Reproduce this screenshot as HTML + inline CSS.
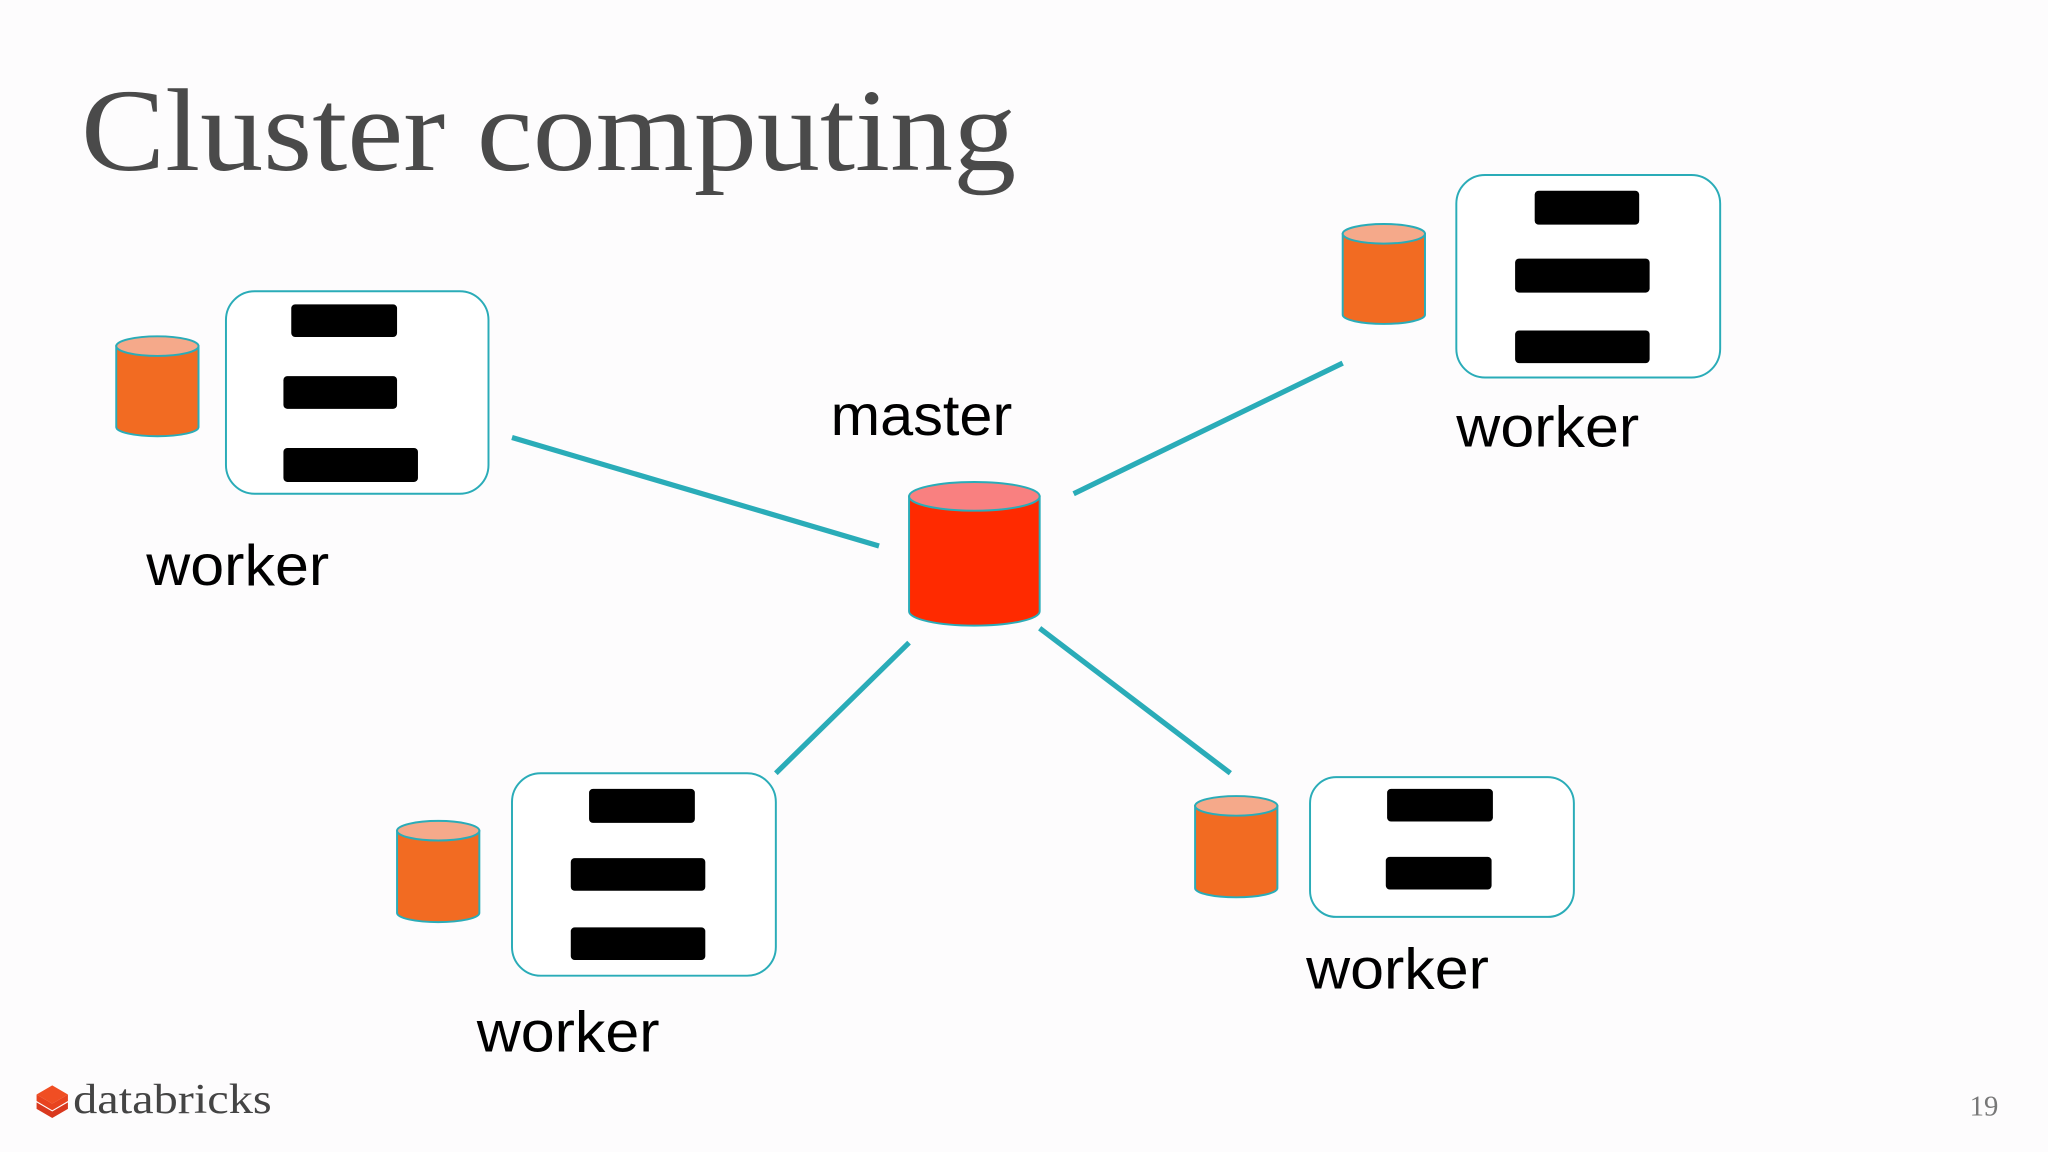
<!DOCTYPE html>
<html><head><meta charset="utf-8"><style>
html,body{margin:0;padding:0;background:#fdfcfd;}
svg{display:block;}
</style></head><body>
<svg width="2048" height="1152" viewBox="0 0 1568 882" preserveAspectRatio="none" xmlns="http://www.w3.org/2000/svg">
<rect width="1568" height="882" fill="#fdfcfd"/>
<text x="62" y="130" font-family="Liberation Serif, serif" font-size="90" fill="#4a4a4a" textLength="716" lengthAdjust="spacingAndGlyphs">Cluster computing</text>

<g stroke="#2aacb8" stroke-width="4" stroke-linecap="butt">
<line x1="392" y1="335" x2="673" y2="418"/>
<line x1="822" y1="378" x2="1028" y2="278"/>
<line x1="696" y1="492" x2="594" y2="592"/>
<line x1="796" y1="481" x2="942" y2="592"/>
</g>

<g stroke="#2aacb8" stroke-width="1.5" fill="#fff">
<rect x="173" y="223" width="201" height="155" rx="22"/>
<rect x="1115" y="134" width="202" height="155" rx="22"/>
<rect x="392" y="592" width="202" height="155" rx="22"/>
<rect x="1003" y="595" width="202" height="107" rx="20"/>
</g>
<g fill="#000">
<rect x="223" y="233" width="81" height="25" rx="3"/>
<rect x="217" y="288" width="87" height="25" rx="3"/>
<rect x="217" y="343" width="103" height="26" rx="3"/>
<rect x="1175" y="146" width="80" height="26" rx="3"/>
<rect x="1160" y="198" width="103" height="26" rx="3"/>
<rect x="1160" y="253" width="103" height="25" rx="3"/>
<rect x="451" y="604" width="81" height="26" rx="3"/>
<rect x="437" y="657" width="103" height="25" rx="3"/>
<rect x="437" y="710" width="103" height="25" rx="3"/>
<rect x="1062" y="604" width="81" height="25" rx="3"/>
<rect x="1061" y="656" width="81" height="25" rx="3"/>
</g>

<!-- small cylinders -->
<g stroke="#2aacb8" stroke-width="1.5">
<path d="M89 265 V327 A31.5 7 0 0 0 152 327 V265 Z" fill="#f26b22"/>
<ellipse cx="120.5" cy="265" rx="31.5" ry="7.5" fill="#f5a98a"/>
<path d="M1028 179 V241 A31.5 7 0 0 0 1091 241 V179 Z" fill="#f26b22"/>
<ellipse cx="1059.5" cy="179" rx="31.5" ry="7.5" fill="#f5a98a"/>
<path d="M304 636 V699 A31.5 7 0 0 0 367 699 V636 Z" fill="#f26b22"/>
<ellipse cx="335.5" cy="636" rx="31.5" ry="7.5" fill="#f5a98a"/>
<path d="M915 617 V680 A31.5 7 0 0 0 978 680 V617 Z" fill="#f26b22"/>
<ellipse cx="946.5" cy="617" rx="31.5" ry="7.5" fill="#f5a98a"/>
<!-- master -->
<path d="M696 380 V468 A50 11 0 0 0 796 468 V380 Z" fill="#ff2a00"/>
<ellipse cx="746" cy="380" rx="50" ry="11" fill="#f98080"/>
</g>

<g font-family="Liberation Sans, sans-serif" font-size="44" fill="#000">
<text x="636" y="333" textLength="139" lengthAdjust="spacingAndGlyphs">master</text>
<text x="112" y="448" textLength="140" lengthAdjust="spacingAndGlyphs">worker</text>
<text x="1115" y="342" textLength="140" lengthAdjust="spacingAndGlyphs">worker</text>
<text x="365" y="805" textLength="140" lengthAdjust="spacingAndGlyphs">worker</text>
<text x="1000" y="757" textLength="140" lengthAdjust="spacingAndGlyphs">worker</text>
</g>

<!-- logo -->
<g>
<path d="M28 838 L40 831 L52 838 L40 845 Z" fill="#f04e23"/>
<path d="M28 844 L40 851 L52 844 L52 849 L40 856 L28 849 Z" fill="#d9381e"/>
<path d="M28 838 L40 845 L52 838 L52 843 L40 850 L28 843 Z" fill="#e8431f"/>
</g>
<text x="56" y="852" font-family="Liberation Serif, serif" font-size="32" fill="#444" textLength="152" lengthAdjust="spacingAndGlyphs">databricks</text>
<text x="1508" y="854" font-family="Liberation Serif, serif" font-size="22" fill="#777">19</text>
</svg>
</body></html>
